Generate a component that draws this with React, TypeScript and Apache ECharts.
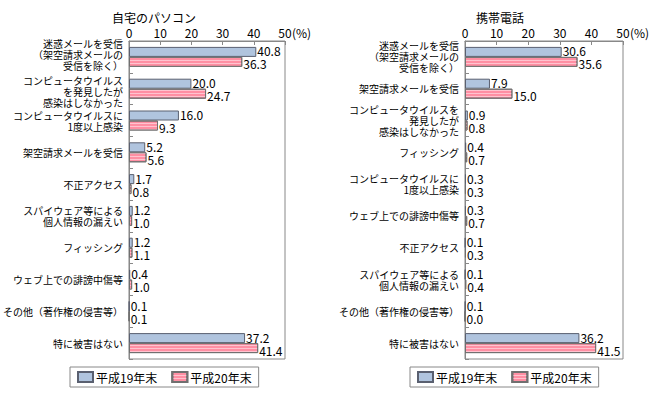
import React, { useEffect, useRef } from "react";
import * as echarts from "echarts";

const seriesNames = ["平成19年末", "平成20年末"];

const pcCategories = [
  "迷惑メールを受信\n（架空請求メールの\n受信を除く）",
  "コンピュータウイルス\nを発見したが\n感染はしなかった",
  "コンピュータウイルスに\n1度以上感染",
  "架空請求メールを受信",
  "不正アクセス",
  "スパイウェア等による\n個人情報の漏えい",
  "フィッシング",
  "ウェブ上での誹謗中傷等",
  "その他（著作権の侵害等）",
  "特に被害はない",
];
const pcH19 = [40.8, 20.0, 16.0, 5.2, 1.7, 1.2, 1.2, 0.4, 0.1, 37.2];
const pcH20 = [36.3, 24.7, 9.3, 5.6, 0.8, 1.0, 1.1, 1.0, 0.1, 41.4];

const mobileCategories = [
  "迷惑メールを受信\n（架空請求メールの\n受信を除く）",
  "架空請求メールを受信",
  "コンピュータウイルスを\n発見したが\n感染はしなかった",
  "フィッシング",
  "コンピュータウイルスに\n1度以上感染",
  "ウェブ上での誹謗中傷等",
  "不正アクセス",
  "スパイウェア等による\n個人情報の漏えい",
  "その他（著作権の侵害等）",
  "特に被害はない",
];
const mobileH19 = [30.6, 7.9, 0.9, 0.4, 0.3, 0.3, 0.1, 0.1, 0.1, 36.2];
const mobileH20 = [35.6, 15.0, 0.8, 0.7, 0.3, 0.7, 0.3, 0.4, 0.0, 41.5];

const titles = ["自宅のパソコン", "携帯電話"];
const xTicks = { min: 0, max: 50, interval: 10 };

const FONT = "'Noto Sans CJK JP', sans-serif";

export default function App() {
  const ref = useRef<HTMLDivElement>(null);
  useEffect(() => {
    if (!ref.current) return;
    const chart = echarts.init(ref.current, null, { renderer: "svg" });

    const grids = [
      { left: 126, top: 41, width: 159, height: 318 },
      { left: 465, top: 41, width: 158, height: 318 },
    ];

    const xAxis = grids.map((_, i) => ({
      type: "value",
      gridIndex: i,
      position: "top",
      min: xTicks.min,
      max: xTicks.max,
      interval: xTicks.interval,
      axisLine: { show: true, lineStyle: { color: "#888" } },
      axisTick: { show: true, inside: true, length: 4, lineStyle: { color: "#888" } },
      splitLine: { show: false },
      axisLabel: { margin: 3, fontSize: 12, color: "#000", fontFamily: FONT },
    }));

    // separate adjacent three-line labels a little, as the reference does
    const spread = (list: string[]) =>
      list.map((c, k) => {
        const lines = c.split("\n").length;
        const prev = k > 0 ? list[k - 1].split("\n").length : 0;
        const next = k < list.length - 1 ? list[k + 1].split("\n").length : 0;
        if (lines === 3 && next === 3) return { value: c, textStyle: { padding: [0, 0, 5, 0] } };
        if (lines === 3 && prev === 3) return { value: c, textStyle: { padding: [5, 0, 0, 0] } };
        return c;
      });

    const cats = [pcCategories, mobileCategories];
    const yAxis = grids.map((_, i) => ({
      type: "category",
      gridIndex: i,
      inverse: true,
      data: spread(cats[i]),
      axisLine: { show: true, lineStyle: { color: "#888" } },
      axisTick: { show: true, inside: true, length: 4, lineStyle: { color: "#888" } },
      axisLabel: {
        interval: 0,
        margin: 6,
        color: "#000",
        fontFamily: FONT,
        align: "right",
        verticalAlign: "middle",
        formatter: (v: string) =>
          v
            .split("\n")
            .map((s) => `{a|${s}}`)
            .join("\n"),
        rich: {
          a: { fontSize: 10, lineHeight: 11, fontFamily: FONT, color: "#000", align: "right" },
        },
      },
    }));

    const blueStyle = { color: "#b0c4de", borderColor: "#5a6070", borderWidth: 1 };
    const pinkStyle = {
      color: "#ff8fa3",
      borderColor: "#707070",
      borderWidth: 1,
      decal: {
        symbol: "rect",
        symbolSize: 1,
        color: "rgba(255,205,215,0.85)",
        dashArrayX: [1, 0],
        dashArrayY: [1, 2],
        rotation: 0,
      },
    };

    const makeLabel = (dy: number) => ({
      show: true,
      position: "right",
      distance: 1,
      fontSize: 12,
      lineHeight: 10,
      offset: [0, dy],
      color: "#000",
      fontFamily: FONT,
      formatter: (p: any) => Number(p.value).toFixed(1),
    });

    const dataSets = [
      [pcH19, pcH20],
      [mobileH19, mobileH20],
    ];
    const series: any[] = [];
    dataSets.forEach((pair, i) => {
      pair.forEach((vals, j) => {
        series.push({
          type: "bar",
          name: seriesNames[j],
          xAxisIndex: i,
          yAxisIndex: i,
          data: vals,
          barWidth: 10,
          barGap: "0%",
          itemStyle: j === 0 ? blueStyle : pinkStyle,
          label: makeLabel(j === 0 ? -1 : 2),
        });
      });
    });

    const legendBase = {
      top: 367,
      orient: "horizontal",
      data: seriesNames,
      icon: "rect",
      itemWidth: 15,
      itemHeight: 10,
      itemGap: 14,
      borderColor: "#888",
      borderWidth: 1,
      padding: [4, 7, 4, 7],
      selectedMode: false,
      textStyle: { fontSize: 12, color: "#000", fontFamily: FONT, padding: [0, 0, 0, -2] },
    };

    chart.setOption({
      animation: false,
      textStyle: { fontFamily: FONT },
      grid: grids.map((g) => ({ ...g, show: true, borderColor: "#888", borderWidth: 1, containLabel: false })),
      xAxis,
      yAxis,
      series,
      legend: [
        { ...legendBase, left: 70 },
        { ...legendBase, left: 410 },
      ],
      graphic: [
        { type: "text", x: 154, y: 17, style: { text: titles[0], fill: "#000", font: `12px ${FONT}`, align: "center", verticalAlign: "middle" } },
        { type: "text", x: 500, y: 17, style: { text: titles[1], fill: "#000", font: `12px ${FONT}`, align: "center", verticalAlign: "middle" } },
        { type: "text", x: 292, y: 32, style: { text: "(%)", fill: "#000", font: `12px ${FONT}`, align: "left", verticalAlign: "middle" } },
        { type: "text", x: 630, y: 32, style: { text: "(%)", fill: "#000", font: `12px ${FONT}`, align: "left", verticalAlign: "middle" } },
      ],
    });

    return () => chart.dispose();
  }, []);

  return (
    <div
      ref={ref}
      style={{ position: "fixed", left: 0, top: 0, width: 666, height: 398, background: "#fff" }}
    />
  );
}
